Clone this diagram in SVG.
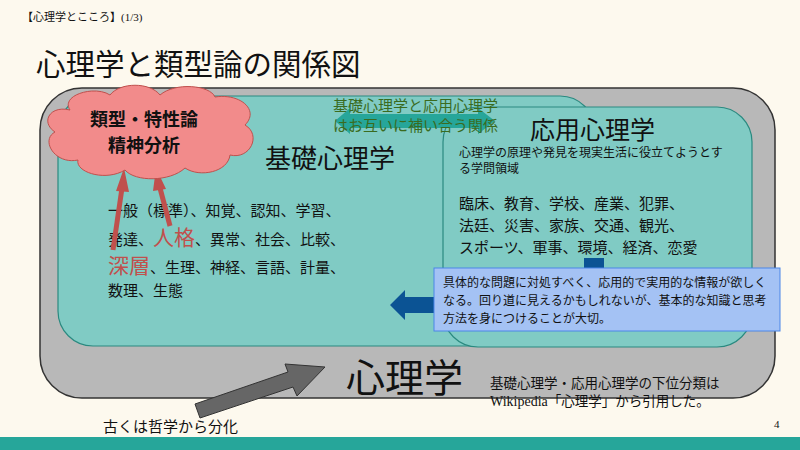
<svg xmlns="http://www.w3.org/2000/svg" width="800" height="450" viewBox="0 0 800 450">
<style>
text{font-family:"Noto Sans CJK JP","Noto Sans",sans-serif;fill:#111}
.s{font-size:15px}
.r{fill:#c0504d}
</style>
<rect width="800" height="450" fill="#fdf9ee"/>
<rect y="437" width="800" height="13" fill="#26a69a"/>
<text x="22" y="21" font-size="11" fill="#444">【心理学とこころ】<tspan font-family="Liberation Serif,serif">(1/3)</tspan></text>
<text x="36" y="75" font-size="29.5">心理学と類型論の関係図</text>
<g id="outer"><rect x="40" y="88" width="735" height="310" rx="42" fill="#b8b8b8" stroke="#333" stroke-width="1.5"/>
<text x="346" y="392" font-size="39">心理学</text>
<text x="490" y="388" font-size="13.5">基礎心理学・応用心理学の下位分類は</text>
<text x="490" y="406" font-size="13.5"><tspan font-family="Liberation Serif,serif" font-size="14">Wikipedia</tspan>「心理学」から引用した。</text></g>
<g id="basic"><rect x="58" y="96" width="537" height="250" rx="35" fill="#80cbc4" stroke="#2a8a80" stroke-width="1.2"/>
<text x="265" y="168" font-size="26">基礎心理学</text>
<text x="108" y="216" class="s">一般（標準）、知覚、認知、学習、</text>
<text x="108" y="245" class="s">発達、<tspan class="r" font-size="21">人格</tspan>、異常、社会、比較、</text>
<text x="108" y="273" class="s"><tspan class="r" font-size="21">深層</tspan>、生理、神経、言語、計量、</text>
<text x="108" y="296" class="s">数理、生態</text></g>
<g id="applied"><rect x="443" y="107" width="309" height="240" rx="35" fill="#80cbc4" stroke="#2a8a80" stroke-width="1.2"/>
<text x="530" y="139" font-size="25">応用心理学</text>
<text x="459" y="157" font-size="12">心理学の原理や発見を現実生活に役立てようとす</text>
<text x="459" y="173" font-size="12">る学問領域</text>
<text x="459" y="209" class="s">臨床、教育、学校、産業、犯罪、</text>
<text x="459" y="231" class="s">法廷、災害、家族、交通、観光、</text>
<text x="459" y="253" class="s">スポーツ、軍事、環境、経済、恋愛</text></g>
<g id="connectors">
<path d="M335,121 L350,108 L350,114 L478,114 L478,108 L495,121 L478,134 L478,128 L350,128 L350,134 Z" fill="#26a69a"/>
<g stroke="#c0504d" stroke-width="5" fill="#c0504d"><line x1="113" y1="250" x2="122" y2="188"/><line x1="170" y1="226" x2="160" y2="188"/></g>
<path d="M116,191 L124,168 L129,192 Z M153,191 L156,168 L166,189 Z" fill="#c0504d"/>
<path d="M390,305 L405,290 L405,297 L440,297 L440,313 L405,313 L405,320 Z" fill="#0b5394"/>
<rect x="584" y="258" width="20" height="14" fill="#0b5394"/>
<path d="M195,404 L288,372 L285,364 L325,367 L297,396 L293,387 L200,418 Z" fill="#666" stroke="#333"/>
</g>
<g id="cloud">
<path d="M70,110 C60,95 95,85 110,95 C120,82 150,82 160,95 C175,82 210,85 215,97 C240,93 260,110 245,125 C262,135 250,160 230,155 C228,172 200,178 185,168 C170,182 135,182 125,170 C105,182 75,172 78,160 C55,165 40,140 55,132 C40,122 50,105 70,110 Z" fill="#f28b8b" stroke="#c0504d"/>
<text x="144" y="126" font-size="18" font-weight="bold" text-anchor="middle">類型・特性論</text>
<text x="144" y="152" font-size="18" font-weight="bold" text-anchor="middle">精神分析</text></g>
<g id="note"><rect x="434" y="268" width="346" height="63" fill="#a4c2f4" stroke="#4a86e8"/>
<text x="443" y="287" font-size="12">具体的な問題に対処すべく、応用的で実用的な情報が欲しく</text>
<text x="443" y="305" font-size="12">なる。回り道に見えるかもしれないが、基本的な知識と思考</text>
<text x="443" y="323" font-size="12">方法を身につけることが大切。</text></g>
<text x="333" y="111" font-size="15" style="fill:#3a6b1f">基礎心理学と応用心理学</text>
<text x="333" y="131" font-size="15" style="fill:#3a6b1f">はお互いに補い合う関係</text>
<text x="103" y="432" class="s">古くは哲学から分化</text>
<text x="774" y="428" font-size="11" style="font-family:'Liberation Serif',serif">4</text>
</svg>
